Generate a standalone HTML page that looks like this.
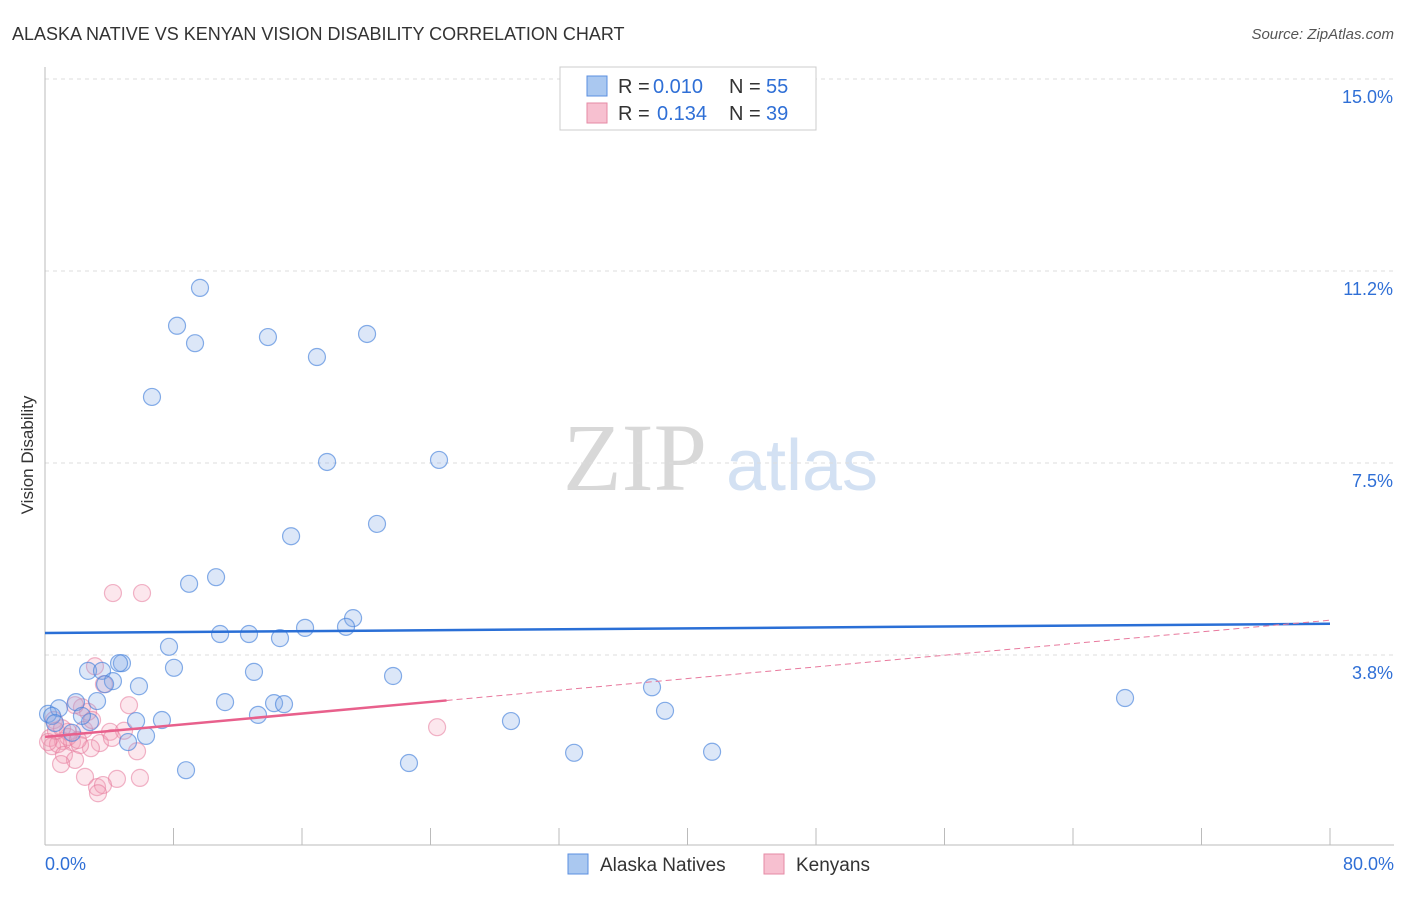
<!DOCTYPE html>
<html><head><meta charset="utf-8"><style>
body{margin:0;background:#fff;font-family:"Liberation Sans",sans-serif}
svg text{font-family:"Liberation Sans",sans-serif}
</style></head><body>
<svg id="chart" width="1406" height="892">
<text x="12" y="40" font-size="18" fill="#333">ALASKA NATIVE VS KENYAN VISION DISABILITY CORRELATION CHART</text>
<text x="1394" y="39" font-size="15" fill="#555" font-style="italic" text-anchor="end">Source: ZipAtlas.com</text>
<text x="33" y="455" font-size="17" fill="#333" text-anchor="middle" transform="rotate(-90 33 455)">Vision Disability</text>
<g><text x="635" y="490" font-size="96" fill="#d8d8d8" style="font-family:'Liberation Serif',serif" text-anchor="middle">ZIP</text><text x="802" y="490" font-size="72" fill="#d3e1f3" text-anchor="middle">atlas</text></g>
<g id="grid"></g><g id="axes"></g><g id="pts"></g><g id="lines"></g>
<g>
<rect x="560" y="67" width="256" height="63" fill="#fff" stroke="#ccc"/>
<rect x="587" y="76" width="20" height="20" fill="#aac8f0" stroke="#5b8fe0"/>
<text x="618" y="93" font-size="20" fill="#333">R =</text><text x="653" y="93" font-size="20" fill="#2f6fd6">0.010</text>
<text x="729" y="93" font-size="20" fill="#333">N =</text><text x="766" y="93" font-size="20" fill="#2f6fd6">55</text>
<rect x="587" y="103" width="20" height="20" fill="#f7c0d0" stroke="#e68aa5"/>
<text x="618" y="120" font-size="20" fill="#333">R =</text><text x="657" y="120" font-size="20" fill="#2f6fd6">0.134</text>
<text x="729" y="120" font-size="20" fill="#333">N =</text><text x="766" y="120" font-size="20" fill="#2f6fd6">39</text>
</g>
<g>
<rect x="568" y="854" width="20" height="20" fill="#aac8f0" stroke="#5b8fe0"/>
<text x="600" y="871" font-size="19" fill="#333">Alaska Natives</text>
<rect x="764" y="854" width="20" height="20" fill="#f7c0d0" stroke="#e68aa5"/>
<text x="796" y="871" font-size="19" fill="#333">Kenyans</text>
</g>
</svg>
<script>
const yTicks=[3.75,7.5,11.25,15];
const yTickLabels=["3.8%","7.5%","11.2%","15.0%"];
const xTicks=[0,8,16,24,32,40,48,56,64,72,80];
const blueX=[9.65,8.22,9.34,13.88,20.05,16.93,6.66,17.56,24.53,20.67,15.32,8.97,10.65,19.18,18.74,16.19,10.90,12.70,14.63,7.72,8.03,4.79,4.61,2.68,3.55,13.01,21.67,4.23,3.74,5.85,37.79,3.24,1.93,11.21,14.26,14.88,67.24,0.19,0.87,0.44,38.60,13.26,2.80,5.67,7.28,29.01,2.30,6.29,5.17,1.68,32.94,41.53,22.66,8.78,0.62];
const blueY=[10.92,10.18,9.84,9.96,10.02,9.57,8.79,7.52,7.56,6.31,6.07,5.14,5.27,4.47,4.30,4.28,4.16,4.16,4.08,3.91,3.50,3.59,3.59,3.44,3.44,3.42,3.34,3.24,3.18,3.14,3.12,2.85,2.83,2.83,2.81,2.79,2.91,2.60,2.71,2.56,2.66,2.58,2.44,2.46,2.48,2.46,2.56,2.17,2.05,2.23,1.84,1.86,1.64,1.50,2.42];
const pinkX=[4.23,6.04,3.11,3.67,5.23,2.68,2.30,1.87,0.56,4.05,4.92,2.43,1.43,0.31,1.12,1.68,0.44,0.81,3.42,2.86,2.18,1.18,1.87,1.00,5.73,24.41,2.49,4.48,5.91,3.24,3.61,3.30,1.43,0.68,2.05,2.93,1.06,0.19,4.17];
const pinkY=[4.96,4.96,3.53,3.18,2.77,2.64,2.73,2.77,2.48,2.25,2.27,2.29,2.25,2.13,2.07,2.05,1.97,2.01,2.03,1.93,1.99,1.80,1.70,1.62,1.87,2.34,1.37,1.33,1.35,1.17,1.21,1.05,2.15,2.27,2.09,2.48,2.32,2.05,2.13];
const blueFit=[4.18,0.00225];
const pinkFit=[2.15,0.0285];
const pinkSolidEnd=25;
const X=v=>45+v/80*1285, Y=v=>847-v/3.75*192;
const NS="http://www.w3.org/2000/svg";
function mk(tag,at,parent){const e=document.createElementNS(NS,tag);for(const k in at)e.setAttribute(k,at[k]);document.getElementById(parent).appendChild(e);return e;}
yTicks.forEach((t,i)=>{
 const g=mk('line',{x1:45,x2:1394,y1:Y(t),y2:Y(t),stroke:'#ddd','stroke-dasharray':'4,4'},'grid');
 
 
 const l=mk('text',{x:1393,y:Y(t)+24,'font-size':18,fill:'#2f6fd6','text-anchor':'end'},'grid');
 l.textContent=yTickLabels[i];
 
 
});
const ax=mk('line',{x1:45,x2:1394,y1:845,y2:845,stroke:'#bbb'},'axes');


const ay=mk('line',{x1:45,x2:45,y1:67,y2:845,stroke:'#bbb'},'axes');


xTicks.forEach(t=>{
 const k=mk('line',{x1:X(t),x2:X(t),y1:828,y2:845,stroke:'#bbb'},'axes');
 
 
});
const x0=mk('text',{x:45,y:870,'font-size':18,fill:'#2f6fd6'},'axes');x0.textContent="0.0%";


const x1=mk('text',{x:1394,y:870,'font-size':18,fill:'#2f6fd6','text-anchor':'end'},'axes');x1.textContent="80.0%";


pinkX.forEach((v,i)=>{
 const c=mk('circle',{cx:X(v),cy:Y(pinkY[i]),r:8.5,fill:'rgba(244,160,185,0.25)',stroke:'rgba(230,120,155,0.55)','stroke-width':1.2},'pts');
 
 
});
blueX.forEach((v,i)=>{
 const c=mk('circle',{cx:X(v),cy:Y(blueY[i]),r:8.5,fill:'rgba(130,170,230,0.28)',stroke:'rgba(70,130,220,0.65)','stroke-width':1.2},'pts');
 
 
});
const bl=mk('line',{x1:X(0),x2:X(80),y1:Y(blueFit[0]),y2:Y(blueFit[0]+blueFit[1]*80),stroke:'#2a6fd6','stroke-width':2.5},'lines');


const pd=mk('line',{x1:X(pinkSolidEnd),x2:X(80),y1:Y(pinkFit[0]+pinkFit[1]*pinkSolidEnd),y2:Y(pinkFit[0]+pinkFit[1]*80),stroke:'#e8799d','stroke-width':1,'stroke-dasharray':'6,4'},'lines');


const pl=mk('line',{x1:X(0),x2:X(pinkSolidEnd),y1:Y(pinkFit[0]),y2:Y(pinkFit[0]+pinkFit[1]*pinkSolidEnd),stroke:'#e8608c','stroke-width':2.5},'lines');


</script>
</body></html>
